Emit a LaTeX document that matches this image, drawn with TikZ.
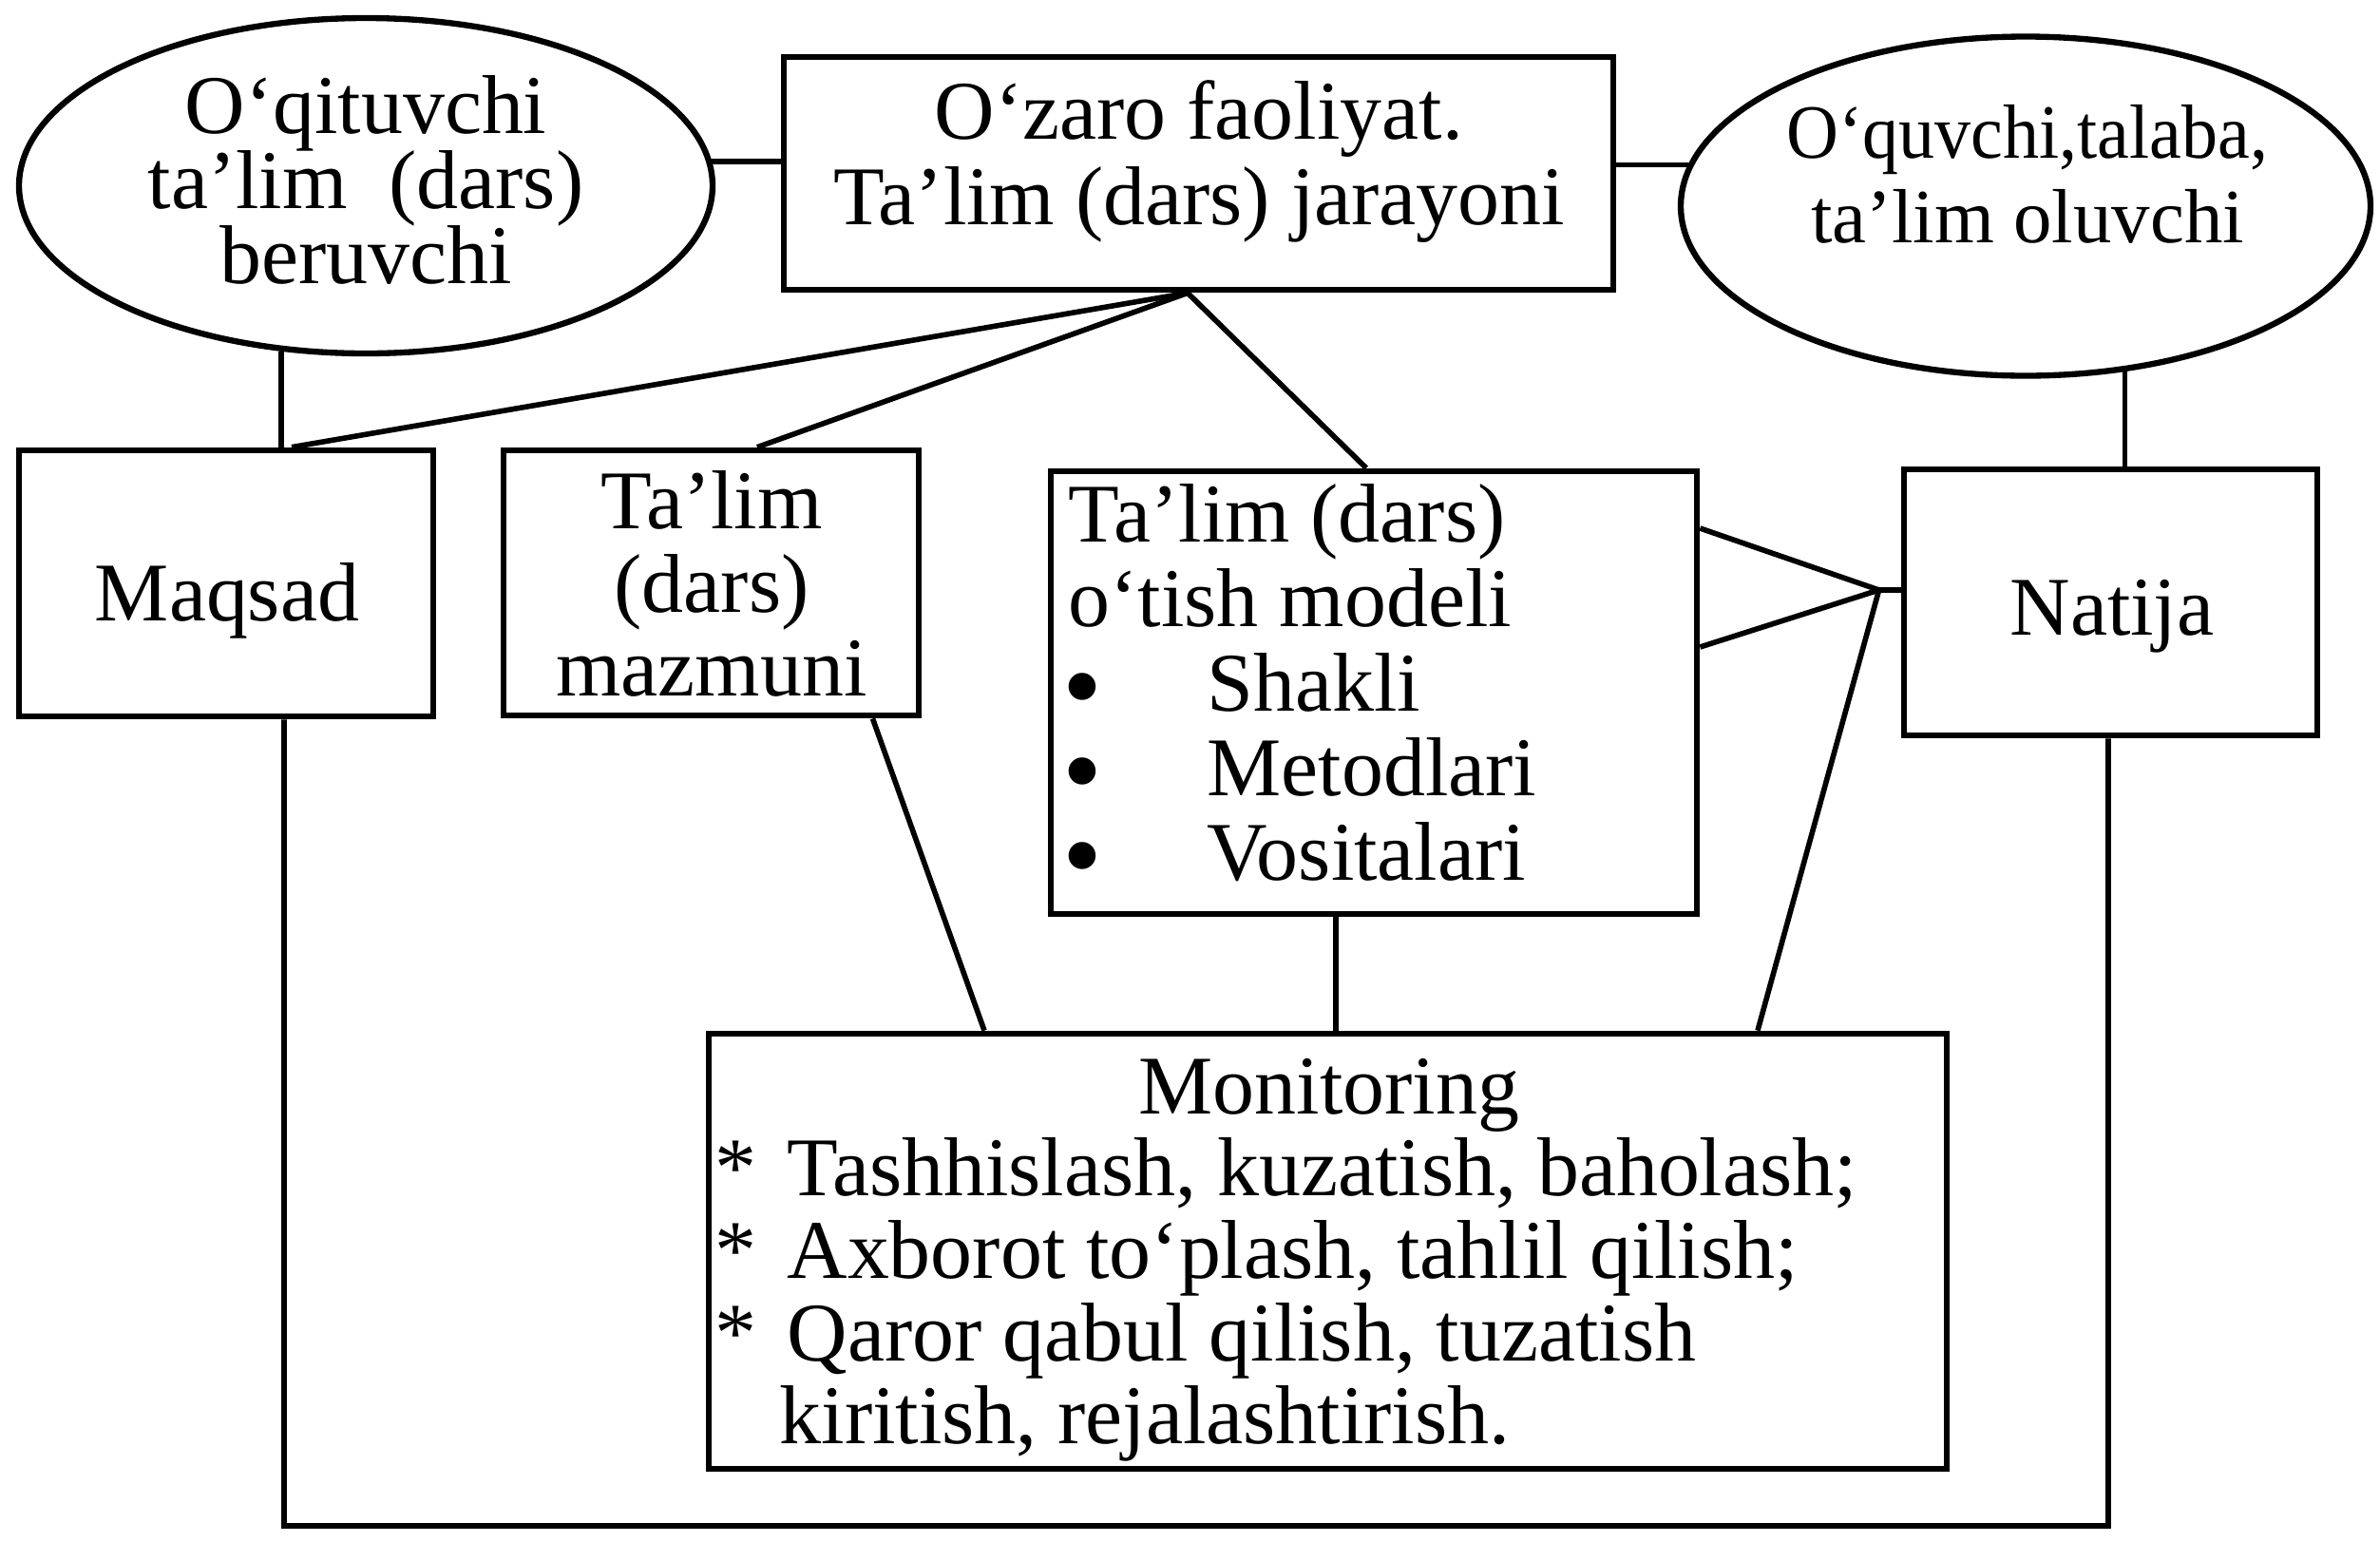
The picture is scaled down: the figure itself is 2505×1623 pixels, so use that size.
\documentclass[tikz,border=0pt]{standalone}
\usepackage{fontspec}
\setmainfont{Liberation Serif}
\usepackage{graphicx}
\usetikzlibrary{shapes.geometric}
\newcommand\blkc[2]{\vtop{\baselineskip=#1\lineskiplimit=-\maxdimen\lineskip=0pt\halign{\hfil##\hfil\cr#2\crcr}}}
\newcommand\blkl[2]{\vtop{\baselineskip=#1\lineskiplimit=-\maxdimen\lineskip=0pt\halign{##\hfil\cr#2\crcr}}}
\newcommand\mybul{\makebox[14.6mm][l]{\hspace{-0.6mm}\raisebox{-1.4mm}{\fontsize{34}{34}\selectfont •}}}
\newcommand\mystar{\makebox[7.6mm][l]{*}}
\begin{document}
\begin{tikzpicture}[x=0.1mm,y=-0.1mm,
  box/.style={draw, line width=1.9pt, rectangle, inner sep=0pt},
  oval/.style={draw, line width=1.8pt, ellipse, inner sep=0pt},
  conn/.style={line width=1.6pt},
  txt/.style={inner sep=0pt, font=\fontsize{25}{25}\selectfont}]
\fill[white] (0,0) rectangle (2505,1623);
\useasboundingbox (0,0) rectangle (2505,1623);

% shapes
\node[oval, minimum width=73mm, minimum height=35.3mm] (L) at (385,195.5) {};
\node[box, minimum width=87.3mm, minimum height=24.5mm] (T) at (1261.5,182.5) {};
\node[oval, minimum width=72.6mm, minimum height=35.7mm] (R) at (2132,217) {};
\node[box, minimum width=43.6mm, minimum height=28mm] (M) at (238,614) {};
\node[box, minimum width=43.7mm, minimum height=27.9mm] (Z) at (748.5,613.5) {};
\node[box, minimum width=68mm, minimum height=46.6mm] (D) at (1446,729) {};
\node[box, minimum width=43.5mm, minimum height=28mm] (N) at (2221.5,634) {};
\node[box, minimum width=130.3mm, minimum height=45.8mm] (O) at (1397.5,1317) {};

% texts
\node[txt, anchor=base] (lt) at (385,140) {\blkc{7.9mm}{O‘qituvchi\cr ta’lim\ \ (dars)\cr beruvchi}};
\node[txt, anchor=base] (tt) at (1262,146) {\blkc{9mm}{O‘zaro faoliyat.\cr Ta’lim (dars) jarayoni}};
\node[txt, font=\fontsize{23}{23}\selectfont, anchor=base] (rt) at (2134,166) {\blkc{8.9mm}{\scalebox{0.94}[1]{O‘quvchi,talaba,}\cr ta’lim oluvchi}};
\node[txt, anchor=base] (mt) at (239,653) {Maqsad};
\node[txt, anchor=base] (zt) at (749,556) {\blkc{8.8mm}{Ta’lim\cr (dars)\cr mazmuni}};
\node[txt, anchor=base west] (dt) at (1124,570) {\blkl{8.9mm}{Ta’lim (dars)\cr o‘tish modeli\cr \mybul Shakli\cr \mybul Metodlari\cr \mybul Vositalari}};
\node[txt, anchor=base] (nt) at (2223,668) {Natija};
\node[txt, anchor=base] (ot) at (1399,1172) {Monitoring};
\node[txt, anchor=base west] (oi) at (752,1258) {\blkl{8.7mm}{\mystar Tashhislash, kuzatish, baholash;\cr \mystar Axborot to‘plash, tahlil qilish;\cr \mystar Qaror qabul qilish, tuzatish\cr \hspace{6.8mm}kiritish, rejalashtirish.}};

% connectors
\coordinate (J) at ([xshift=-1.15mm]T.south);
\coordinate (P) at ([xshift=-2.3mm,yshift=1.3mm]N.west);
\coordinate (BR) at (2219,1606);
\coordinate (Ds) at ([xshift=-4mm]D.south);
\draw[conn] (L.4.7) -- (T.west |- L.4.7);
\draw[conn] (R.173.9) -- (T.east |- R.173.9);
\draw[conn] (L.243.65) -- (M.north -| L.243.65);
\draw[conn] (R.301.1) -- (N.north -| R.301.1);
\draw[conn] (J) -- ([xshift=6.9mm]M.north);
\draw[conn] (J) -- ([xshift=4.85mm]Z.north);
\draw[conn] (J) -- ([xshift=-0.8mm]D.north);
\draw[conn] ([yshift=17.3mm]D.east) -- (P);
\draw[conn] ([yshift=4.8mm]D.east) -- (P);
\draw[conn] ([xshift=45.25mm]O.north) -- (P);
\draw[conn] (P) -- (N.west |- P);
\draw[conn] (Ds) -- (O.north -| Ds);
\draw[conn] ([xshift=17mm]Z.south) -- ([xshift=-36.15mm]O.north);
\draw[conn] ([xshift=6.1mm]M.south) |- (BR) -- ([xshift=-0.25mm]N.south);
\end{tikzpicture}
\end{document}
